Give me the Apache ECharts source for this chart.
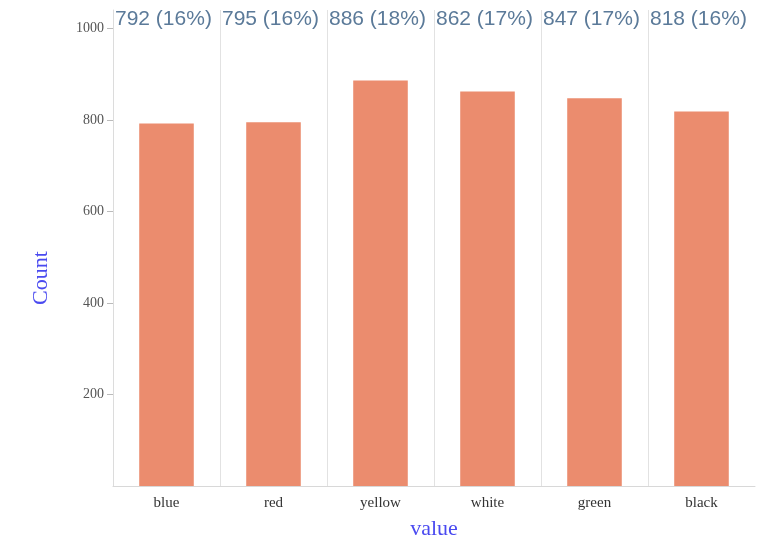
<!DOCTYPE html>
<html><head><meta charset="utf-8">
<script src="https://cdn.jsdelivr.net/npm/echarts@6/dist/echarts.min.js"></script>
<style>html,body{margin:0;padding:0;background:#fff;}#c{width:764px;height:541px;}</style>
</head><body><div id="c"></div>
<script>
const categories = ['blue', 'red', 'yellow', 'white', 'green', 'black'];
const counts = [792, 795, 886, 862, 847, 818];
const yTicks = [200, 400, 600, 800, 1000];
const yTop = 1040;

const total = counts.reduce((a, b) => a + b, 0);
const sepColors = categories.map(() => '#e2e2e2').concat(['rgba(0,0,0,0)']);
const chart = echarts.init(document.getElementById('c'));
chart.setOption({
  animation: false,
  grid: { left: 113, right: 9, top: 10, bottom: 55, containLabel: false, outerBoundsMode: 'none' },
  xAxis: [{
    type: 'category', data: categories,
    name: 'value', nameLocation: 'middle', nameGap: 32,
    nameTextStyle: { fontFamily: 'Liberation Serif', fontSize: 22, color: '#4a4af0' },
    axisLine: { lineStyle: { color: '#d8d8d8' } },
    axisTick: { alignWithLabel: true, length: 4, lineStyle: { color: '#ccc' } },
    axisLabel: { fontFamily: 'Liberation Serif', fontSize: 15, color: '#333', margin: 10 },
    splitLine: { show: true, interval: 0, lineStyle: { color: sepColors } }
  }, {
    type: 'category', data: categories, show: false
  }],
  yAxis: {
    type: 'value', min: 0, max: yTop,
    name: 'Count', nameLocation: 'middle', nameGap: 61,
    nameTextStyle: { fontFamily: 'Liberation Serif', fontSize: 22, color: '#4a4af0', padding: [0, 60, 0, 0] },
    axisLine: { show: true, lineStyle: { color: '#dcdcdc' } },
    axisTick: { show: true, length: 6, customValues: yTicks, lineStyle: { color: '#bbb' } },
    axisLabel: { customValues: yTicks, formatter: v => String(v), fontFamily: 'Liberation Serif', fontSize: 14, color: '#555', margin: 9 },
    splitLine: { show: false }
  },
  series: [{
    type: 'bar', data: counts, barWidth: '51%',
    itemStyle: { color: '#eb8c6e' }
  }, {
    type: 'bar', xAxisIndex: 1, data: categories.map(() => yTop), barWidth: '100%',
    itemStyle: { color: 'rgba(0,0,0,0)' }, silent: true, z: 5,
    label: {
      show: true, position: 'insideTopLeft', distance: 0, offset: [2, -1],
      fontFamily: 'Liberation Sans', fontSize: 21, color: '#5b7a99',
      formatter: p => counts[p.dataIndex] + ' (' + Math.round(counts[p.dataIndex] / total * 100) + '%)'
    }
  }]
});
</script></body></html>
